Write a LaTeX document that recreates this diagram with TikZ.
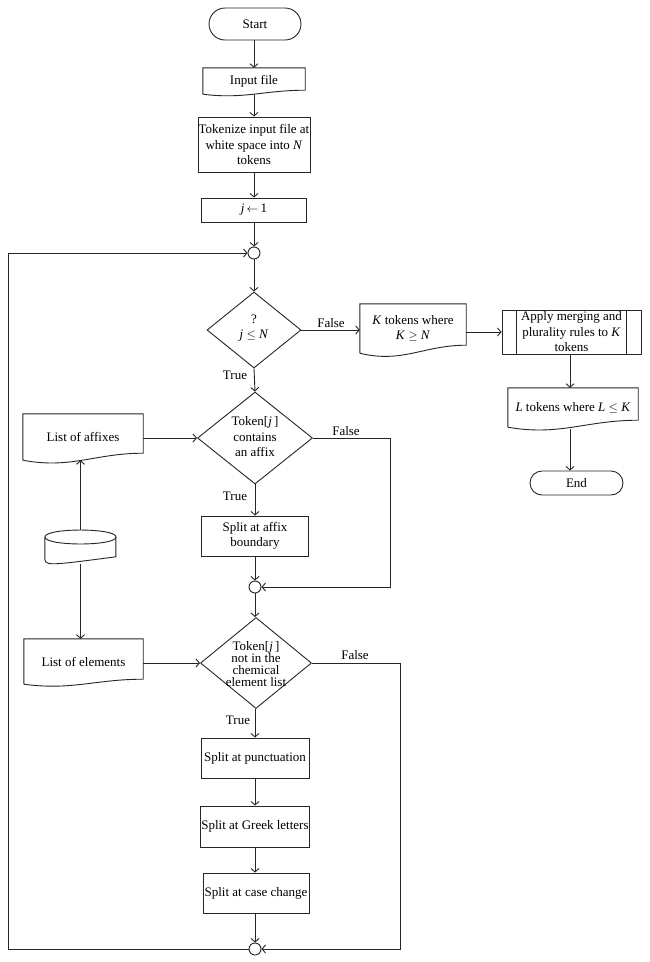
\documentclass[tikz,border=0pt]{standalone}
\usepackage{fontspec}
\setmainfont{Liberation Serif}
\usetikzlibrary{shapes.geometric,arrows.meta,calc}
\tikzset{
  ln/.style={line width=0.9pt, draw=black!85},
  arr/.style={ln, -{Straight Barb[length=3.5pt,width=8pt]}},
  txt/.style={font=\fontsize{13}{15.5}\selectfont, align=center, inner sep=0pt, text=black},
  box/.style={txt, ln, draw, rectangle},
  term/.style={box},
  dia/.style={ln, draw, diamond, inner sep=0pt},
  jn/.style={ln, draw, circle, minimum size=12pt, inner sep=0pt},
  lbl/.style={txt}
}
\newcommand\docshape[2]{%
  \draw[ln] let \p1=(#1.south west), \p2=(#1.north east) in
  (\p1) -- (\x1,\y2) -- (\p2) -- (\x2,\y1+#2)
  .. controls ({\x2-0.4*(\x2-\x1)},{\y1+#2}) and ({\x1+0.4*(\x2-\x1)},{\y1-1.3*#2}) .. (\p1);}
\begin{document}
\begin{tikzpicture}[x=1pt,y=-1pt]
\useasboundingbox (0,0) rectangle (649,962);
\fill[white] (0,0) rectangle (649,962);

% main column
\node[term, minimum width=92, minimum height=32, rounded corners=16] (start) at (255,24) {Start};
\node[txt, minimum width=102, minimum height=26] (inp) at (254,81) {Input file};
\docshape{inp}{4pt}
\node[box, minimum width=112, minimum height=55] (tok) at (254,144.5) {Tokenize input file at\\white space into \textit{N}\\tokens};
\node[box, minimum width=105, minimum height=24] (init) at (254,210) {\textit{j}\,$\leftarrow$\,1};
\node[jn] (j1) at (254,253) {};
\node[dia, minimum width=94, minimum height=76] (d1) at (254,330) {};
\node[txt] (d1t) at (254,328) {?\\\textit{j} $\le$ \textit{N}};

% right branch
\node[txt, minimum width=106, minimum height=49] (kt) at (413,328.5) {\textit{K} tokens where\\\textit{K} $\ge$ \textit{N}};
\docshape{kt}{8pt}
\node[box, minimum width=139, minimum height=44] (ap) at (571.5,332) {Apply merging and\\plurality rules to \textit{K}\\tokens};
\draw[ln] ([xshift=15pt]ap.north west) -- ([xshift=15pt]ap.south west);
\draw[ln] ([xshift=-15pt]ap.north east) -- ([xshift=-15pt]ap.south east);
\node[txt, minimum width=130, minimum height=39] (lt) at (573,407.5) {\textit{L} tokens where \textit{L} $\le$ \textit{K}};
\docshape{lt}{7pt}
\node[term, minimum width=93, minimum height=24, rounded corners=12] (en) at (576.5,483) {End};

% affix decision
\node[dia, minimum width=115, minimum height=92] (d2) at (255,438) {};
\node[txt] (d2t) at (255,437) {Token[\textit{j}\,]\\contains\\an affix};
\node[txt, minimum width=120, minimum height=46] (la) at (83,437) {List of affixes};
\docshape{la}{7pt}
\node[minimum width=71, minimum height=34, inner sep=0pt] (db) at (80.5,547) {};
\draw[ln] (db.north west) ++(0,7) -- ++(0,20) .. controls ++(0,9.3) and ++(-71,9.3) .. ++(71,0) -- ++(0,-20);
\draw[ln] (45,537) .. controls (45,527.7) and (116,527.7) .. (116,537) .. controls (116,546.3) and (45,546.3) .. (45,537);
\node[box, minimum width=107, minimum height=40] (sa) at (255,536) {Split at affix\\boundary};
\node[jn] (j2) at (255,587) {};

% element decision
\node[dia, minimum width=111, minimum height=91] (d3) at (256,663) {};
\node[txt, font=\fontsize{13}{12}\selectfont] (d3t) at (256,664) {Token[\textit{j}\,]\\not in the\\chemical\\element list};
\node[txt, minimum width=119, minimum height=45] (le) at (83.5,661.5) {List of elements};
\docshape{le}{5pt}
\node[box, minimum width=108, minimum height=40] (sp) at (255,758) {Split at punctuation};
\node[box, minimum width=109, minimum height=41] (sg) at (255,826.5) {Split at Greek letters};
\node[box, minimum width=106, minimum height=40] (sc) at (256,893) {Split at case change};
\node[jn] (j3) at (255,949) {};

\coordinate (r2) at (390,438);
\coordinate (r3) at (400,663);
\coordinate (cl1) at (8,949);
\coordinate (cl2) at (8,253);

% connectors
\draw[arr] (start.south -| inp) -- (inp.north);
\draw[arr] (inp.south) -- (tok.north);
\draw[arr] (tok.south) -- (init.north);
\draw[arr] (init.south) -- (j1.north);
\draw[arr] (j1.south) -- (d1.north);
\draw[arr] (d1.east) -- (d1.east -| kt.west);
\draw[arr] (kt.east |- ap) -- (ap.west);
\draw[arr] ([xshift=-1.5pt]ap.south) -- ([xshift=-1.5pt]ap.south |- lt.north);
\draw[arr] ([xshift=-3pt,yshift=-2pt]lt.south) -- ([xshift=-3pt]lt.south |- en.north);
\draw[arr] (d1.south) -- (d2.north);
\draw[arr] (la.east |- d2) -- (d2.west);
\draw[arr] (db.north) -- (db.north |- la.south);
\draw[arr] (db.south) -- (db.south |- le.north);
\draw[arr] (d2.south) -- (sa.north);
\draw[arr] (sa.south) -- (j2.north);
\draw[arr] (d2.east) -- (r2) |- (j2.east);
\draw[arr] (j2.south) -- (j2.south |- d3.north);
\draw[arr] (le.east |- d3) -- (d3.west);
\draw[arr] (d3.south -| sp) -- (sp.north);
\draw[arr] (sp.south) -- (sg.north);
\draw[arr] (sg.south) -- (sg.south |- sc.north);
\draw[arr] (sc.south -| j3) -- (j3.north);
\draw[arr] (d3.east) -- (r3) |- (j3.east);
\draw[arr] (j3.west) -- (cl1) -- (cl2) -- (j1.west);

% labels
\node[lbl] (f1) at (331,323) {False};
\node[lbl] (t1) at (235,375) {True};
\node[lbl] (f2) at (346,431) {False};
\node[lbl] (t2) at (235,496) {True};
\node[lbl] (f3) at (355,655) {False};
\node[lbl] (t3) at (238,720) {True};
\end{tikzpicture}
\end{document}
